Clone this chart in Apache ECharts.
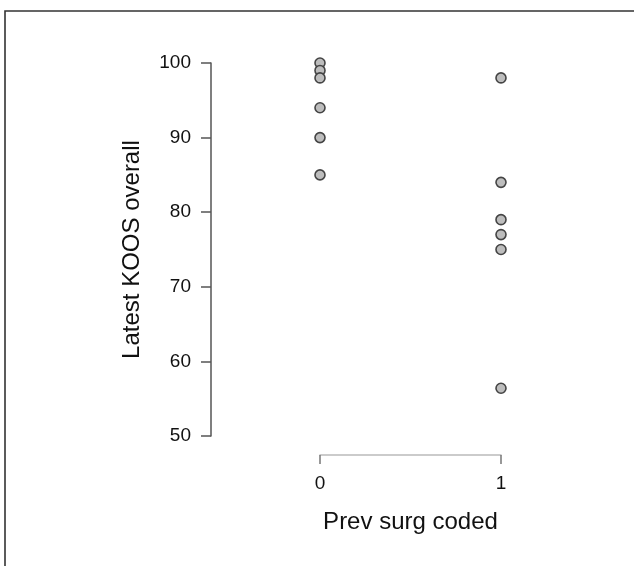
<!DOCTYPE html>
<html>
<head>
<meta charset="utf-8">
<script src="https://cdn.jsdelivr.net/npm/echarts@6/dist/echarts.min.js"></script>
<style>
  html, body { margin: 0; padding: 0; background: #fff; }
  #container { width: 634px; height: 566px; }
</style>
</head>
<body>
<div id="container"></div>
<script>
var groups = [0, 1];
var koosNoSurg = [100, 99, 98, 94, 90, 85];
var koosPrevSurg = [98, 84, 79, 77, 75, 56.4];
var yTicks = [50, 60, 70, 80, 90, 100];

window.onload = function() {

var chartDom = document.getElementById('container');
var myChart = echarts.init(chartDom);
var option;

var points = [];
koosNoSurg.forEach(function(v) { points.push([groups[0], v]); });
koosPrevSurg.forEach(function(v) { points.push([groups[1], v]); });

var font = 'Liberation Sans, Arial, Helvetica, sans-serif';

option = {
  animation: false,
  backgroundColor: '#fff',
  graphic: [
    {
      type: 'polyline',
      shape: { points: [[5, 566], [5, 11], [634, 11]] },
      style: { stroke: '#333', lineWidth: 1.6, fill: null }
    }
  ],
  grid: {
    left: 320,
    right: 133,
    top: 63,
    bottom: 130
  },
  xAxis: {
    type: 'value',
    min: 0,
    max: 1,
    interval: 1,
    offset: 19,
    name: 'Prev surg coded',
    nameLocation: 'middle',
    nameGap: 55,
    nameTextStyle: { fontSize: 24, color: '#111', fontFamily: font },
    axisLine: { show: true, onZero: false, lineStyle: { color: '#bbb', width: 1.5 } },
    axisTick: { show: true, length: 9, lineStyle: { color: '#777', width: 1.5 } },
    axisLabel: { fontSize: 19, color: '#111', margin: 19, fontFamily: font },
    splitLine: { show: false }
  },
  yAxis: {
    type: 'value',
    min: yTicks[0],
    max: yTicks[yTicks.length - 1],
    interval: 10,
    offset: 109,
    name: 'Latest KOOS overall',
    nameLocation: 'middle',
    nameGap: 67,
    nameTextStyle: { fontSize: 24, color: '#111', fontFamily: font },
    axisLine: { show: true, onZero: false, lineStyle: { color: '#555', width: 1.5 } },
    axisTick: { show: true, length: 10, lineStyle: { color: '#555', width: 1.5 } },
    axisLabel: { fontSize: 19, color: '#111', margin: 20, fontFamily: font },
    splitLine: { show: false }
  },
  series: [
    {
      type: 'scatter',
      data: points,
      clip: false,
      symbol: 'circle',
      symbolSize: 10,
      itemStyle: {
        color: '#bdbdbd',
        borderColor: '#444',
        borderWidth: 1.6,
        opacity: 1
      }
    }
  ]
};

option && myChart.setOption(option);

}
</script>
</body>
</html>
